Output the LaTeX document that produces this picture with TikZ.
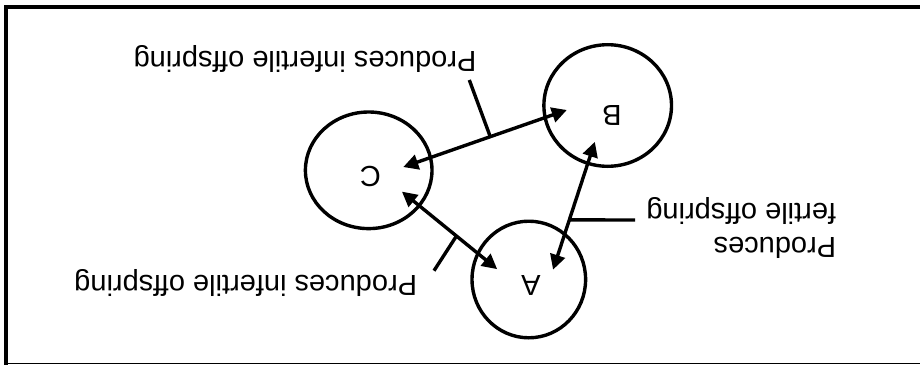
\documentclass[tikz,border=0pt]{standalone}
\usepackage{fontspec}
\setmainfont{Liberation Sans}
\usetikzlibrary{shapes.geometric,arrows.meta}
\begin{document}
\begin{tikzpicture}[x=1pt,y=1pt,
  ring/.style={draw, ellipse, line width=3.4pt, inner sep=0pt},
  letter/.style={circle, minimum size=66pt, inner sep=0pt, font=\fontsize{29}{34.5}\selectfont},
  lbl/.style={inner sep=0pt, font=\fontsize{29}{34.5}\selectfont},
  link/.style={line width=3.4pt, {Triangle[length=15pt,width=15pt]}-{Triangle[length=15pt,width=15pt]}},
  leader/.style={line width=3.4pt},
]
\useasboundingbox (0,0) rectangle (920,365);
% the whole figure is set upside down
\begin{scope}[rotate around={180:(460,182.5)}, transform shape]
  % frame
  \draw[line width=3.8pt] (0,7) -- (914,7) -- (914,365);
  \draw[line width=1.6pt] (0,363.5) -- (914,363.5);

  % populations
  \node[ring, minimum width=126.6pt, minimum height=116.6pt] (ringC) at (551.3,170.3) {};
  \node[ring, minimum width=127.6pt, minimum height=121.6pt] (ringB) at (312.3,105.5) {};
  \node[ring, minimum width=113.6pt, minimum height=116.6pt] (ringA) at (391.2,279.5) {};
  \node[letter] (C) at (549.5,176.5) {C};
  \node[letter] (B) at (308,115) {B};
  \node[letter] (A) at (389,285.5) {A};

  % crosses
  \draw[link, shorten <=0.9pt, shorten >=14.2pt] (C.196) -- coordinate[pos=0.494] (onCB) (B.343);
  \draw[link, shorten <=1.7pt, shorten >=4.5pt] (C.155) -- coordinate[pos=0.558] (onCA) (A.336);
  \draw[link, shorten <=-7.2pt, shorten >=-1.4pt] (A.223) -- coordinate[pos=0.359] (onAB) (B.58);

  % outcomes
  \node[lbl, anchor=base] (infTop) at (615,51.7) {Produces infertile offspring};
  \node[lbl, anchor=base] (infBot) at (674.3,275) {Produces infertile offspring};
  \node[lbl, align=left] (fert) at (178.7,228.2) {Produces\\fertile offspring};

  \coordinate (tagTop) at (450.7,80);
  \coordinate (tagBot) at (486,270.7);
  \coordinate (tagFert) at (285,220);
  \draw[leader] (tagTop) -- (onCB);
  \draw[leader] (tagBot) -- (onCA);
  \draw[leader] (tagFert) -- (onAB);
\end{scope}
\end{tikzpicture}
\end{document}
